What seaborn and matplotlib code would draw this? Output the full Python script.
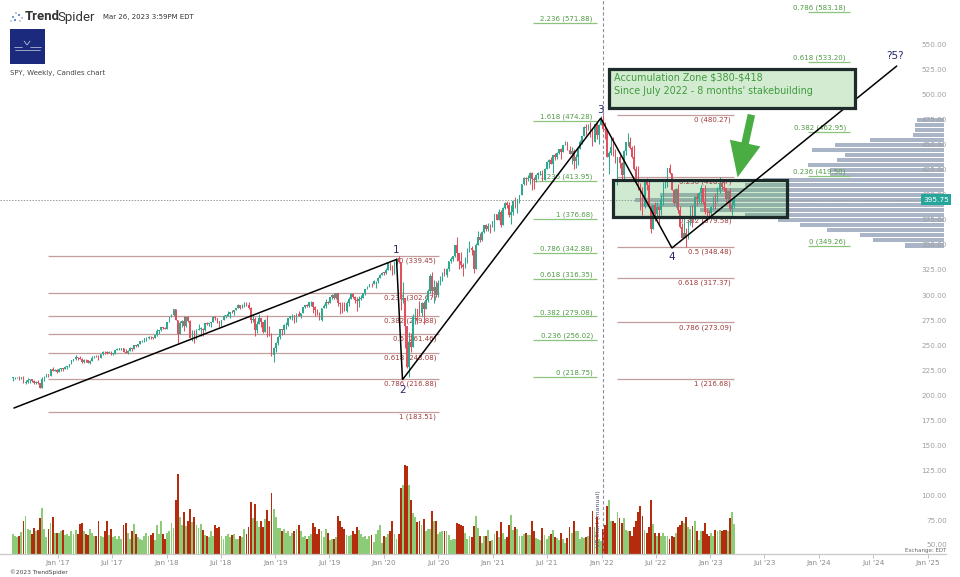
import datetime as dt
import numpy as np
import pandas as pd
import matplotlib
matplotlib.use("Agg")
import matplotlib.pyplot as plt
import matplotlib.dates as mdates
from matplotlib.patches import Rectangle, FancyArrowPatch, Circle
from matplotlib.lines import Line2D
import seaborn as sns

# ------------------------------------------------------------------ data
first_week = "2016-08-03"
first_open = 217.6
closes = [
    218.2, 218.5, 218.5, 217.3, 218.4, 212.9, 213.4, 215.9, 216.3, 215.0, 213.1, 213.9, 212.5,
    208.0, 216.4, 218.5, 221.5, 219.7, 226.5, 225.0, 225.7, 223.5,
    227.0, 227.0, 226.7, 229.0, 229.3, 231.5, 235.4, 236.7, 238.4, 237.7, 237.0, 233.9, 235.7,
    235.2, 232.5, 234.6, 238.1, 239.7, 239.0, 238.0, 241.7, 244.0, 243.4, 242.6, 243.1, 241.8,
    242.1, 245.6, 246.9, 247.0, 247.4, 244.1, 242.7, 244.6, 247.8, 246.6, 250.1, 249.4, 251.2,
    254.4, 254.9, 257.1, 257.7, 258.7, 258.1, 257.9, 260.4, 264.5, 265.5, 268.2, 267.5, 266.9,
    274.0, 278.1, 280.4, 286.6, 275.5, 261.5, 273.0, 274.7, 269.1, 278.9, 274.2, 258.0, 263.2,
    259.7, 265.2, 266.6, 266.6, 266.0, 272.9, 271.3, 272.1, 273.6, 278.2, 277.1, 274.7, 271.3,
    275.3, 279.6, 279.7, 281.4, 283.6, 283.2, 285.1, 287.5, 290.3, 287.6, 290.9, 292.0, 290.7,
    287.8, 276.0, 276.3, 265.3, 271.9, 277.8, 273.7, 263.3, 275.7, 263.6, 260.5, 240.7, 247.8,
    252.4, 259.0, 266.5, 265.3, 270.1, 270.5, 277.4, 279.1, 280.4, 274.5, 281.3, 279.3, 282.5,
    288.6, 290.7, 290.0, 293.4, 294.0, 288.1, 285.8, 282.8, 275.3, 287.7, 289.3, 294.0, 293.0,
    298.5, 300.7, 297.2, 302.0, 292.6, 291.6, 288.9, 284.9, 292.5, 297.0, 301.1, 298.3, 295.4,
    294.4, 296.3, 298.0, 302.0, 306.2, 308.9, 311.8, 311.0, 314.3, 314.9, 317.3, 320.7, 322.9,
    322.4, 325.7, 332.0, 328.8, 321.7, 332.2, 337.6, 333.5, 296.3, 297.5, 269.3, 228.8, 253.4,
    248.2, 278.2, 286.6, 283.0, 282.8, 292.4, 286.3, 295.4, 304.3, 319.3, 304.2, 308.6, 300.1,
    312.2, 317.6, 321.7, 320.9, 326.5, 334.6, 336.8, 339.5, 350.6, 342.6, 334.1, 330.7, 328.7,
    333.8, 346.9, 347.3, 345.8, 326.5, 350.2, 358.1, 355.3, 363.7, 369.9, 366.3, 369.2, 369.0, 373.9,
    381.3, 375.7, 382.9, 370.1, 387.7, 392.6, 390.0, 380.4, 383.6, 394.1, 389.5, 396.0,
    400.6, 411.5, 417.3, 416.7, 417.3, 422.1, 416.6, 414.9, 420.0, 422.6, 424.3, 414.9, 426.6,
    433.7, 435.5, 431.3, 439.9, 438.5, 442.5, 445.9, 443.4, 450.3, 453.1, 445.4, 441.4, 443.9,
    434.2, 437.9, 445.9, 453.1, 459.3, 468.5, 467.3, 468.9, 459.0, 453.4, 470.7, 459.9, 470.6, 475.0,
    466.1, 464.7, 438.0, 442.0, 448.7, 440.5, 434.2, 437.8, 432.2, 420.1, 444.5, 452.7,
    452.9, 447.6, 437.8, 426.0, 412.0, 411.3, 401.7, 389.6, 415.3, 410.5, 389.8, 366.7, 390.1,
    381.2, 388.7, 385.1, 395.1, 412.0, 413.5, 427.1, 422.1, 405.3, 392.2, 406.6, 385.6, 368.0, 357.2,
    362.8, 357.6, 374.3, 389.0, 376.4, 398.5, 396.0, 402.3, 406.9, 393.3, 383.3, 382.9, 382.4,
    388.1, 398.5, 395.9, 405.7, 412.4, 408.0, 407.3, 396.4, 404.2, 385.9, 390.0, 395.75,
]
highs = [
    218.8, 219.0, 219.0, 219.3, 219.0, 219.2, 215.7, 217.7, 217.0, 216.8, 215.7, 215.0, 215.2,
    212.4, 219.0, 219.3, 221.8, 221.7, 226.6, 228.3, 226.6, 226.4,
    227.8, 227.4, 227.4, 229.7, 229.6, 231.8, 235.4, 236.8, 240.3, 238.7, 239.4, 237.4, 236.5,
    236.7, 235.9, 235.3, 239.5, 239.9, 240.2, 240.7, 241.9, 244.4, 245.0, 244.9, 244.4, 244.6,
    243.0, 245.9, 247.5, 248.0, 247.8, 247.8, 247.0, 245.6, 248.3, 248.0, 250.3, 251.0, 251.3,
    254.8, 255.5, 257.1, 258.4, 259.4, 259.1, 259.0, 260.5, 266.8, 265.5, 268.6, 268.6, 268.6,
    274.0, 278.1, 282.0, 286.6, 286.7, 275.8, 275.0, 275.2, 279.9, 278.9, 280.0, 275.4, 266.0,
    266.0, 267.0, 271.3, 268.6, 267.9, 273.0, 273.4, 273.0, 274.0, 279.5, 279.5, 276.9, 275.0,
    275.5, 280.2, 281.0, 284.4, 283.6, 285.8, 285.8, 287.7, 291.7, 290.3, 291.3, 293.9, 293.2,
    293.9, 288.1, 281.2, 278.9, 274.9, 281.2, 277.1, 273.1, 276.2, 280.4, 270.0, 262.3, 248.3,
    253.1, 260.0, 266.7, 266.4, 271.8, 274.0, 277.4, 279.8, 282.0, 280.5, 282.2, 284.4, 282.8,
    288.7, 291.0, 291.4, 293.5, 294.9, 293.8, 289.5, 286.4, 283.1, 288.0, 291.4, 296.3, 295.0,
    299.0, 301.1, 302.2, 302.2, 302.6, 294.0, 293.5, 293.6, 294.1, 298.8, 302.5, 302.6, 299.8,
    298.5, 299.4, 300.4, 302.2, 306.2, 309.0, 311.8, 312.7, 315.5, 314.9, 318.7, 321.0, 323.0,
    323.6, 327.5, 332.0, 332.9, 330.0, 334.2, 337.7, 339.1, 333.6, 313.8, 288.6, 270.0, 263.3,
    263.0, 282.0, 287.3, 286.8, 294.9, 293.4, 294.2, 297.9, 306.8, 321.3, 323.4, 315.6, 314.5,
    315.7, 319.8, 323.0, 327.2, 327.0, 334.9, 338.3, 339.6, 350.7, 358.8, 342.6, 343.1, 332.9,
    338.0, 347.0, 354.0, 349.3, 344.6, 352.2, 364.4, 362.0, 364.2, 369.9, 371.1, 372.5, 371.4, 374.0,
    381.5, 381.1, 385.9, 385.0, 388.5, 392.9, 394.2, 393.0, 390.0, 395.0, 398.1, 396.0,
    400.7, 411.7, 417.9, 418.3, 420.7, 422.8, 423.2, 418.2, 421.3, 422.9, 424.6, 425.5, 427.1,
    434.1, 435.8, 437.9, 440.3, 441.8, 442.9, 446.0, 447.1, 450.6, 454.1, 453.6, 448.9, 448.5,
    446.0, 441.7, 446.3, 454.7, 459.6, 469.6, 470.7, 470.9, 473.5, 467.0, 470.9, 472.9, 470.9, 479.0,
    480.0, 473.2, 464.2, 444.0, 458.1, 457.9, 446.6, 437.8, 441.1, 433.4, 444.9, 453.0,
    462.1, 457.8, 449.0, 450.0, 429.6, 429.7, 412.2, 408.6, 415.4, 417.4, 416.5, 383.9, 390.1,
    393.2, 392.9, 389.0, 400.2, 413.0, 415.7, 427.2, 431.7, 419.6, 405.9, 407.5, 411.7, 389.3, 372.3,
    379.5, 367.5, 374.8, 389.5, 390.4, 399.3, 402.3, 402.9, 410.0, 402.5, 410.5, 387.4, 385.2,
    389.3, 399.1, 402.0, 408.2, 418.3, 416.5, 415.1, 404.2, 404.5, 407.0, 396.5, 398.9,
]
lows = [
    214.3, 217.0, 217.3, 216.0, 216.5, 212.9, 211.2, 212.7, 213.0, 214.0, 211.9, 211.8, 211.6,
    207.4, 208.4, 214.6, 218.8, 218.5, 219.9, 224.5, 224.8, 222.7,
    224.0, 225.0, 225.1, 226.5, 226.6, 228.3, 231.6, 234.6, 235.8, 236.1, 236.6, 232.6, 233.1,
    233.7, 232.5, 231.6, 237.4, 237.2, 238.6, 235.4, 239.0, 240.9, 241.9, 241.5, 242.3, 240.2,
    240.3, 241.3, 245.6, 245.6, 246.0, 243.2, 242.2, 242.0, 244.5, 244.9, 246.9, 248.9, 248.6,
    251.3, 254.0, 253.7, 254.6, 256.8, 256.6, 256.3, 257.7, 259.5, 262.0, 265.0, 266.5, 266.6,
    267.4, 273.9, 278.1, 280.0, 275.4, 252.9, 262.0, 268.8, 264.8, 268.7, 273.4, 258.0, 254.7,
    252.9, 256.9, 265.2, 259.9, 259.1, 265.0, 270.4, 270.0, 268.8, 273.4, 275.6, 273.0, 268.5,
    269.7, 275.7, 278.0, 279.3, 277.6, 282.3, 280.7, 285.1, 287.5, 286.8, 287.8, 288.9, 289.6,
    286.1, 272.9, 273.9, 259.9, 262.3, 271.1, 268.3, 262.3, 263.4, 258.9, 259.5, 240.0, 233.8,
    243.7, 250.5, 256.8, 260.7, 261.9, 266.6, 269.5, 276.8, 276.0, 272.4, 274.0, 279.2, 277.2,
    283.3, 287.3, 288.8, 288.1, 289.3, 282.3, 279.9, 281.0, 275.2, 274.3, 287.2, 288.0, 291.3,
    294.3, 296.1, 296.7, 297.0, 289.3, 281.7, 282.4, 284.4, 284.0, 289.3, 297.4, 297.3, 292.3,
    285.0, 288.6, 295.7, 298.3, 300.1, 306.0, 308.7, 308.6, 311.0, 307.1, 312.7, 317.2, 320.4,
    320.1, 321.5, 325.6, 325.1, 320.9, 321.5, 331.8, 332.6, 285.5, 293.0, 247.7, 228.0, 218.3,
    243.9, 250.5, 271.3, 272.0, 279.2, 280.0, 272.0, 289.0, 294.0, 302.0, 299.0, 293.0, 299.0,
    298.9, 310.3, 314.1, 319.2, 318.7, 324.4, 332.9, 334.6, 338.3, 334.9, 326.1, 327.6, 319.8,
    327.6, 332.7, 343.1, 340.8, 322.6, 327.2, 350.5, 353.6, 354.4, 362.5, 364.8, 364.2, 362.0, 368.1,
    364.8, 375.0, 376.5, 368.3, 372.0, 386.0, 387.7, 378.2, 370.9, 380.6, 387.2, 382.2,
    392.0, 403.4, 410.6, 410.6, 414.3, 411.0, 405.3, 406.0, 413.6, 416.3, 420.4, 414.7, 414.9,
    426.4, 427.5, 431.1, 422.0, 435.0, 436.1, 441.2, 436.1, 443.8, 449.8, 445.4, 441.0, 430.9,
    426.4, 427.4, 430.5, 446.3, 451.6, 458.9, 460.5, 465.2, 457.8, 448.9, 456.4, 456.0, 451.6, 470.0,
    464.6, 456.6, 437.8, 420.8, 439.8, 439.7, 432.7, 410.6, 427.1, 415.8, 415.0, 440.7,
    449.1, 445.9, 437.7, 425.4, 411.2, 405.0, 385.2, 380.5, 387.0, 405.1, 389.8, 362.2, 370.2,
    374.0, 379.4, 371.0, 380.7, 390.0, 406.8, 408.7, 421.4, 404.8, 390.0, 388.4, 382.1, 367.6, 357.0,
    357.3, 348.1, 356.6, 370.0, 368.8, 375.5, 390.0, 392.5, 391.8, 391.4, 381.0, 374.8, 376.5,
    377.8, 386.3, 386.0, 393.6, 402.7, 405.0, 404.1, 393.6, 393.6, 384.3, 380.7, 387.3,
]
volumes_m = [
    330, 300, 290, 310, 370, 560, 640, 420, 400, 330, 440, 380, 410,
    600, 780, 420, 280, 420, 520, 620, 350, 360,
    350, 380, 400, 320, 330, 310, 380, 330, 400, 330, 500, 520, 380,
    340, 320, 420, 360, 310, 300, 560, 300, 290, 380, 560, 320, 420,
    280, 300, 260, 300, 250, 480, 520, 360, 250, 380, 500, 340, 280,
    250, 240, 310, 350, 310, 320, 350, 230, 480, 330, 550, 330, 250,
    360, 380, 520, 430, 900, 1340, 620, 480, 700, 470, 560, 750, 530,
    620, 480, 430, 500, 400, 320, 300, 280, 380, 300, 480, 430, 460,
    300, 260, 300, 340, 290, 320, 340, 250, 260, 300, 290, 420, 330,
    450, 870, 600, 840, 560, 450, 560, 460, 580, 740, 560, 1020, 760,
    620, 430, 440, 380, 420, 360, 380, 300, 360, 380, 420, 480, 380,
    280, 300, 260, 300, 340, 520, 450, 330, 420, 380, 280, 420, 360,
    230, 260, 260, 280, 640, 560, 450, 420, 320, 300, 320, 380, 340,
    450, 400, 330, 280, 300, 260, 300, 320, 200, 330, 400, 480, 180,
    300, 280, 340, 380, 560, 340, 260, 330, 1100, 1150, 1500, 1480, 1160,
    900, 680, 620, 540, 560, 480, 580, 380, 420, 420, 720, 560, 560,
    330, 370, 380, 380, 380, 320, 230, 250, 260, 520, 500, 480, 470,
    350, 260, 300, 280, 470, 640, 440, 310, 190, 310, 300, 400, 210, 230,
    340, 380, 290, 530, 360, 260, 280, 480, 650, 410, 460, 420,
    300, 310, 330, 350, 320, 320, 560, 380, 270, 260, 230, 430, 320,
    250, 300, 340, 400, 280, 270, 240, 360, 250, 190, 270, 450, 360,
    560, 380, 380, 260, 290, 270, 280, 300, 450, 720, 450, 620, 260, 220,
    420, 480, 800, 910, 560, 560, 520, 700, 610, 520, 600, 410,
    380, 380, 300, 460, 560, 700, 800, 630, 400, 360, 460, 900, 500,
    360, 300, 360, 300, 350, 310, 300, 260, 300, 280, 350, 460, 480, 560,
    520, 620, 450, 420, 470, 560, 380, 230, 380, 380, 520, 330, 300,
    360, 300, 400, 380, 400, 380, 400, 400, 380, 600, 700, 500,
]

# volume profile since VP start (price bin centre, relative volume)
vp_prices = [350, 355, 360, 365, 370, 375, 380, 385, 390, 395, 400, 405, 410,
             415, 420, 425, 430, 435, 440, 445, 450, 455, 460, 465, 470, 475]
vp_volume = [39, 71, 84, 117, 144, 166, 199, 244, 304, 309, 284, 244, 199,
             181, 114, 114, 136, 107, 99, 132, 109, 74, 31, 29, 29, 27]

# Fibonacci sets: levels and prices
fib12_levels = [0, 0.236, 0.382, 0.5, 0.618, 0.786, 1]
fib12_prices = [339.45, 302.67, 279.88, 261.46, 243.08, 216.88, 183.51]
fibext_levels = [2.236, 1.618, 1.236, 1, 0.786, 0.618, 0.382, 0.236, 0]
fibext_prices = [571.88, 474.28, 413.95, 376.68, 342.88, 316.35, 279.08, 256.02, 218.75]
fibret_levels = [0, 0.236, 0.382, 0.5, 0.618, 0.786, 1]
fibret_prices = [480.27, 418.07, 379.58, 348.48, 317.37, 273.09, 216.68]
fibproj_levels = [0.786, 0.618, 0.382, 0.236, 0]
fibproj_prices = [583.18, 533.20, 462.95, 419.50, 349.26]

# Elliott wave count
wave_labels = ["", "1", "2", "3", "4", "?5?"]
wave_dates = ["2016-08-06", "2020-02-12", "2020-03-03", "2021-12-29", "2022-08-25", "2024-09-18"]
wave_prices = [187.7, 336.0, 216.0, 477.0, 347.4, 529.0]

zone_low, zone_high = 378.5, 415.5
last_price = 395.75
price_ticks = list(range(50, 551, 25))
vp_start = "2022-01-05"

# ------------------------------------------------------------------ layout helpers
W, H = 960, 577
REF = mdates.date2num(dt.datetime(2017, 1, 1))
PXD = 108.75 / 365.25          # pixels per day


def X(px):
    return REF + (px - 58) / PXD


def Y(py):
    return 550 - (py - 45) / 1.002


sns.set_theme(style="white")
plt.rcParams["font.family"] = ["DejaVu Sans"]

fig = plt.figure(figsize=(W / 100, H / 100), dpi=100)
fig.patch.set_facecolor("white")
rect = [0, (H - 554) / H, 1, 554 / H]
ax = fig.add_axes(rect)
ax_vol = fig.add_axes(rect, sharex=ax)
ax_vp = fig.add_axes([603 / W, (H - 554) / H, (944 - 603) / W, 554 / H])
ax_vp.set_zorder(0)
ax_vol.set_zorder(1)
ax.set_zorder(2)
for a in (ax, ax_vol, ax_vp):
    a.patch.set_alpha(0)

YLIM = (Y(554), Y(0))
XLIM = (X(0), X(W))

# ------------------------------------------------------------------ volume profile (seaborn)
vp_df = pd.DataFrame({"price": vp_prices, "vol": vp_volume})
sns.barplot(data=vp_df, x="vol", y="price", orient="h", native_scale=True,
            color="#a9b4c6", saturation=1, width=0.84, errorbar=None, ax=ax_vp)
BIN_H = 4.2
for patch, pc in zip(ax_vp.patches, vp_prices):
    patch.set_y(pc - BIN_H / 2)
    patch.set_height(BIN_H)
    patch.set_linewidth(0)
ax_vp.set_xlim(341, 0)
ax_vp.set_ylim(*YLIM)
ax_vp.axis("off")

# ------------------------------------------------------------------ candles
n = min(len(closes), len(highs), len(lows), len(volumes_m))
dates = pd.date_range(first_week, periods=n, freq="7D")
xd = mdates.date2num(dates.to_pydatetime())
c = np.array(closes[:n])
o = np.array([first_open] + closes[:n - 1])
hi = np.maximum(np.array(highs[:n]), np.maximum(o, c))
lo = np.minimum(np.array(lows[:n]), np.minimum(o, c))
up = c >= o
UP_C, DN_C = "#2ea88f", "#e0505e"
ccol = np.where(up, UP_C, DN_C)
ax.vlines(xd, lo, hi, colors=ccol, lw=0.75, zorder=3)
ax.bar(xd, np.maximum(np.abs(c - o), 0.6), bottom=np.minimum(o, c), width=5.2,
       color=ccol, lw=0, zorder=3.5)

# volume
vcol = np.where(up, "#8ccc78", "#b52b0d")
ax_vol.bar(xd, volumes_m[:n], width=6.3, color=vcol, lw=0)
ax_vol.set_ylim(0, 9300)
ax_vol.axis("off")

# ------------------------------------------------------------------ fib levels
RED_L, RED_T = "#c59c9c", "#9e3a3a"
GRN_L, GRN_T = "#8cc47e", "#4f9a44"


def draw_fib(levels, prices, x0, x1, line_c, text_c, below):
    for lv, p in zip(levels, prices):
        ax.hlines(p, x0, x1, color=line_c, lw=0.9, zorder=2)
        if below:
            ax.annotate(f"{lv:g} ({p:.2f})", (x1, p), xytext=(-2, -1.2),
                        textcoords="offset points", ha="right", va="top",
                        fontsize=5.0, color=text_c, zorder=2.5)
        else:
            ax.annotate(f"{lv:g} ({p:.2f})", (x1, p), xytext=(-3, 0.6),
                        textcoords="offset points", ha="right", va="bottom",
                        fontsize=5.0, color=text_c, zorder=2.5)


draw_fib(fib12_levels, fib12_prices, X(48), X(439), RED_L, RED_T, True)
draw_fib(fibext_levels, fibext_prices, X(533), X(597), GRN_L, GRN_T, False)
draw_fib(fibret_levels, fibret_prices, X(617), X(734), RED_L, RED_T, True)
draw_fib(fibproj_levels, fibproj_prices, X(808), X(850), GRN_L, GRN_T, False)

# ------------------------------------------------------------------ accumulation zone
ax.add_patch(Rectangle((X(613), zone_low), X(787) - X(613), zone_high - zone_low,
                       facecolor="#4caf50", alpha=0.26, lw=0, zorder=1))
ax.add_patch(Rectangle((X(613), zone_low), X(787) - X(613), zone_high - zone_low,
                       fill=False, edgecolor="#1c2a2a", lw=2.3, zorder=5))

# note box
ax.add_patch(Rectangle((X(609), Y(108)), X(855) - X(609), Y(69) - Y(108),
                       facecolor="#d3ebd0", edgecolor="#1e2b2b", lw=2.3, zorder=7))
ax.text(X(614), Y(78), "Accumulation Zone \\$380-\\$418", fontsize=6.9,
        color="#3f9b3f", ha="left", va="center", zorder=8)
ax.text(X(614), Y(91), "Since July 2022 - 8 months' stakebuilding", fontsize=6.9,
        color="#3f9b3f", ha="left", va="center", zorder=8)

# green arrow
ax.add_patch(FancyArrowPatch((X(752), Y(112)), (X(737), Y(180)),
                             arrowstyle="simple,head_length=1.4,head_width=1.25,tail_width=0.3",
                             mutation_scale=18, color="#4aad44", lw=0, zorder=8))

# ------------------------------------------------------------------ wave lines
wd = mdates.date2num(pd.to_datetime(wave_dates).to_pydatetime())
ax.plot(wd, wave_prices, color="black", lw=1.1, zorder=6, solid_joinstyle="miter")
offs = [0, 9, -10, 8, -9, 10]
for lab, xx, pp, off in zip(wave_labels, wd, wave_prices, offs):
    if lab:
        ax.text(xx - (5 if lab == "?5?" else 0), pp + off, lab, fontsize=7.5,
                color="#26266e", ha="center", va="center", zorder=7)

# VP start line
ax.axvline(mdates.date2num(pd.Timestamp(vp_start)), color="#8c8ca0", lw=0.8,
           ls=(0, (3, 2)), zorder=2)
ax.text(X(599), Y(519), "VP Start (manual)", rotation=90, fontsize=4.6,
        color="#55557a", ha="center", va="center", zorder=4)

# last price
ax.hlines(last_price, X(0), X(924), color="#9a9a9a", lw=0.7, ls=(0, (1.5, 1.5)), zorder=2)
ax.text(X(936), last_price, f"{last_price:.2f}", fontsize=5.3, color="white",
        ha="center", va="center", zorder=10,
        bbox=dict(boxstyle="square,pad=0.28", fc="#26a69a", ec="none"))

# right price scale
for p in price_ticks:
    ax.text(X(947), p + (1.2 if p == 50 else 0), f"{p:.2f}", ha="right", va="center",
            fontsize=5.2, color="#a0a0a0", zorder=9)

# ------------------------------------------------------------------ axes
ax.set_xlim(*XLIM)
ax.set_ylim(*YLIM)
ax_vol.set_xlim(*XLIM)
tick_dates = []
tick_labels = []
for yr in range(2017, 2026):
    for mo, name in ((1, "Jan"), (7, "Jul")):
        if yr == 2025 and mo == 7:
            continue
        tick_dates.append(mdates.date2num(dt.datetime(yr, mo, 1)))
        tick_labels.append(f"{name} '{yr % 100:02d}")
ax.set_xticks(tick_dates)
ax.set_xticklabels(tick_labels)
ax.set_yticks([])
ax.tick_params(axis="x", length=3, width=0.6, color="#b8b8b8", labelsize=5.2,
               labelcolor="#8a8a8a", pad=1.5, bottom=True)
for s in ("top", "left", "right"):
    ax.spines[s].set_visible(False)
ax.spines["bottom"].set_color("#c8c8c8")
ax.spines["bottom"].set_linewidth(0.9)
ax.spines["bottom"].set_bounds(X(0), X(946))

# ------------------------------------------------------------------ header / footer
def fx(px):
    return px / W


def fy(py):
    return 1 - py / H


fig.text(fx(25), fy(17), "Trend", fontsize=9.5, fontweight="bold", family="Roboto",
         color="#333333", ha="left", va="center")
fig.text(fx(57.5), fy(17), "Spider", fontsize=9.5, family="Roboto", color="#333333",
         ha="left", va="center")
fig.text(fx(103), fy(17), "Mar 26, 2023 3:59PM EDT", fontsize=5.0, color="#333333",
         ha="left", va="center")
for (px, py, col, r) in [(13, 17, "#6b8fd8", 1.1), (16, 13, "#9aa0aa", 0.9), (19, 15, "#3b6fd0", 1.0),
                         (15, 20, "#3b6fd0", 1.0), (20, 21, "#9aa0aa", 0.8), (22, 18, "#6b8fd8", 0.8),
                         (11, 21, "#9aa0aa", 0.8)]:
    fig.patches.append(Circle((px / 100, (H - py) / 100), r / 100,
                              transform=fig.dpi_scale_trans, color=col, lw=0))
fig.patches.append(Rectangle((10 / 100, (H - 64) / 100), 0.35, 0.35,
                             transform=fig.dpi_scale_trans, color="#1b2a7c", lw=0))
for (x0, x1, yy) in [(14, 22, 47), (30, 41, 47), (15, 40, 49.5)]:
    fig.lines.append(Line2D([x0 / 100, x1 / 100], [(H - yy) / 100, (H - yy) / 100],
                            transform=fig.dpi_scale_trans, color="white", lw=0.4))
fig.lines.append(Line2D([24 / 100, 27 / 100, 30 / 100], [(H - 41) / 100, (H - 45) / 100, (H - 41) / 100],
                        transform=fig.dpi_scale_trans, color="white", lw=0.4))
fig.text(fx(10), fy(73), "SPY, Weekly, Candles chart", fontsize=5.0, color="#444444",
         ha="left", va="center")
fig.text(fx(10), fy(572), "\u00a92023 TrendSpider", fontsize=4.2, color="#444444",
         ha="left", va="center")
fig.text(fx(946), fy(550.5), "Exchange: EDT", fontsize=4.0, color="#666666",
         ha="right", va="center", zorder=20)

fig.savefig("out.png", dpi=100, facecolor="white")
